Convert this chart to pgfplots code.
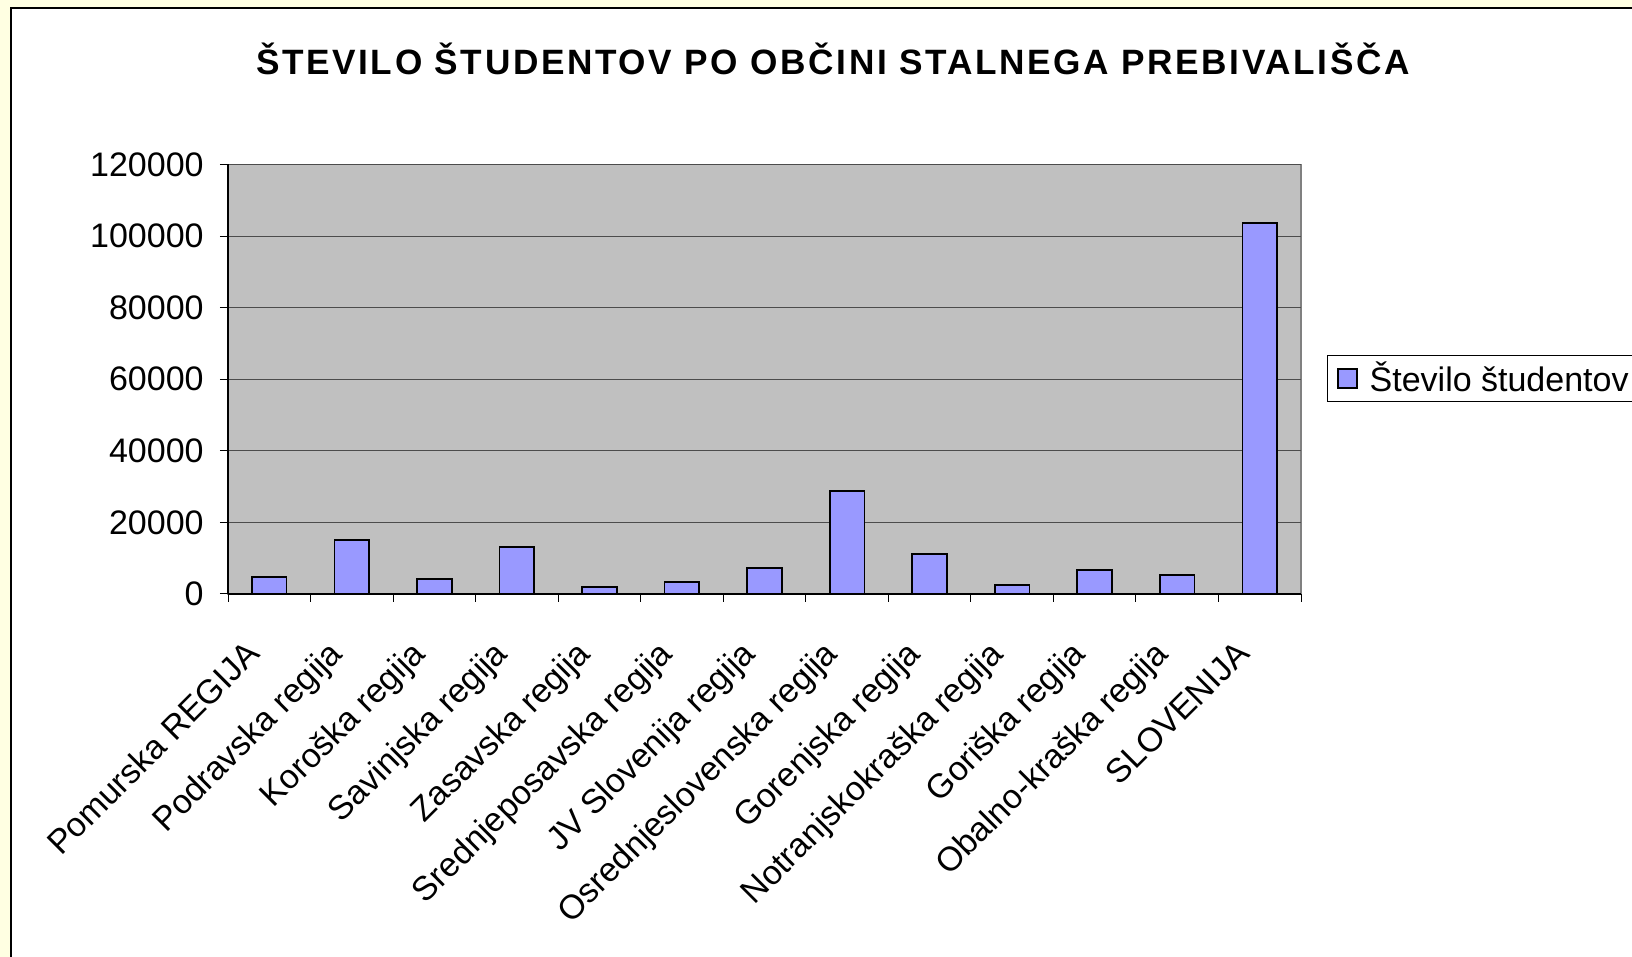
\documentclass[border=0pt]{standalone}
\usepackage{fontspec}
\setmainfont{Liberation Sans}
\usepackage{pgfplots}
\pgfplotsset{compat=1.18}
\definecolor{pagebg}{RGB}{255,255,226}
\definecolor{plotbg}{RGB}{192,192,192}
\definecolor{barblue}{RGB}{153,153,255}

\begin{document}
\begin{tikzpicture}
  \useasboundingbox (0,0) rectangle (816pt,478.5pt);
  \fill[pagebg] (0,0) rectangle (816pt,478.5pt);
  \draw[fill=white, line width=0.8pt] (5.5pt,-5pt) rectangle (830pt,474.5pt);
  \node[font=\bfseries\fontsize{17.6}{20}\selectfont\addfontfeatures{LetterSpace=7.5}]
    at (416.5pt,449pt) {ŠTEVILO ŠTUDENTOV PO OBČINI STALNEGA PREBIVALIŠČA};
  \begin{axis}[
      at={(114pt,181.5pt)}, anchor=south west,
      scale only axis, width=536.5pt, height=214.75pt,
      ybar, bar width=0.42,
      xmin=-0.5, xmax=12.5, ymin=0, ymax=120000,
      ytick={0,20000,...,120000},
      scaled y ticks=false,
      yticklabel style={/pgf/number format/fixed, /pgf/number format/1000 sep={},
        anchor=east, inner sep=0pt, xshift=-8pt},
      xtick={-0.5,0.5,...,12.5}, xticklabels={},
      extra x ticks={0,1,...,12},
      extra x tick labels={Pomurska REGIJA, Podravska regija, Koroška regija,
        Savinjska regija, Zasavska regija, Srednjeposavska regija,
        JV Slovenija regija, Osrednjeslovenska regija, Gorenjska regija,
        Notranjskokraška regija, Goriška regija, Obalno-kraška regija, SLOVENIJA},
      extra x tick style={major tick length=0pt, xmajorgrids=false,
        tick label style={inner sep=0pt, xshift=-12.5pt, yshift=-22pt,
          rotate=45, anchor=north east, font=\fontsize{16.9}{19}\selectfont}},
      tick label style={font=\fontsize{17}{20}\selectfont},
      /pgf/number format/assume math mode=true,
      ymajorgrids, grid style={black!70, line width=0.5pt},
      tick align=outside, major tick length=4pt,
      tick style={black, line width=0.5pt},
      axis x line*=bottom, axis y line*=left,
      axis line style={black, line width=0.6pt, -},
      axis background/.style={fill=plotbg, draw=gray, line width=0.8pt},
      legend style={at={(1.0242,0.5017)}, anchor=west, draw=black,
        line width=0.5pt, fill=white, inner xsep=5pt, inner ysep=1.5pt,
        font=\fontsize{17}{20}\selectfont,
        /tikz/every odd column/.append style={column sep=4pt}},
    ]
    \addplot[fill=barblue, draw=black, line width=0.85pt,
      legend image code/.code={\draw[fill=barblue, draw=black, line width=0.6pt]
        (0pt,-4.75pt) rectangle (9.5pt,4.75pt);}]
      coordinates {
      (0,4670) (1,15100) (2,4100) (3,13150) (4,2050) (5,3350) (6,7270)
      (7,28800) (8,11200) (9,2600) (10,6700) (11,5250) (12,103600) };
    \addlegendentry{Število študentov}
  \end{axis}
\end{tikzpicture}
\end{document}
